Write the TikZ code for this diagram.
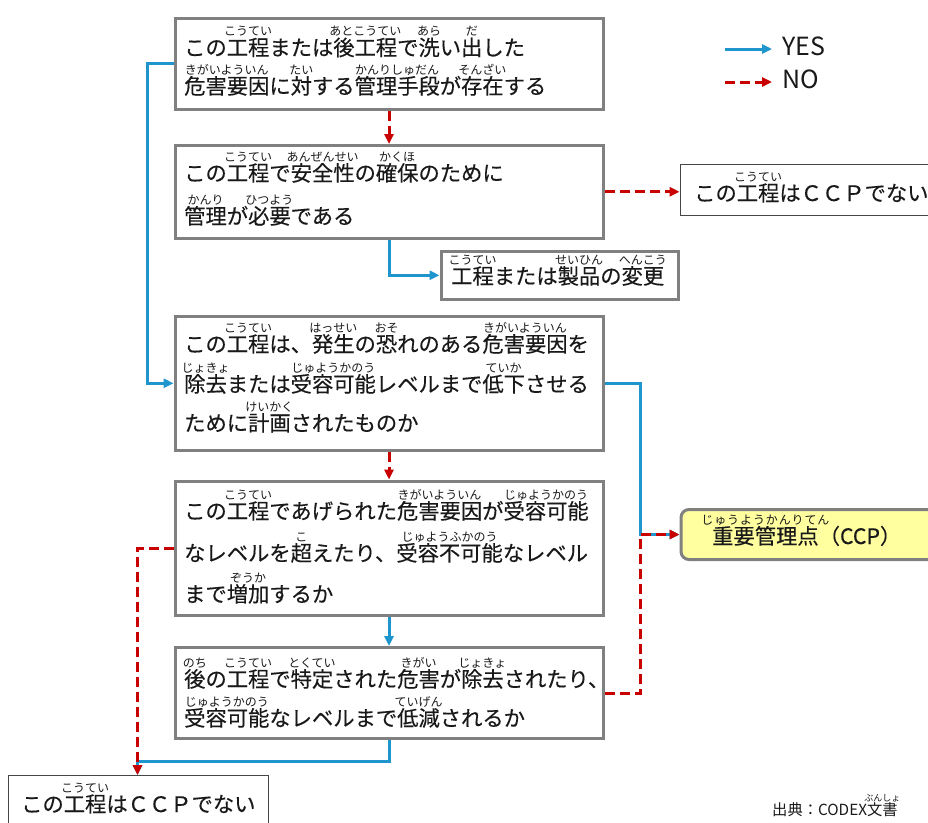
\documentclass[tikz,border=0pt]{standalone}
\usepackage{fontspec}
\newfontfamily\jp[FakeBold=0.3]{Noto Sans CJK JP}
\newfontfamily\jpr{Noto Sans CJK JP}
\usetikzlibrary{arrows.meta}
\definecolor{yesblue}{RGB}{30,150,205}
\definecolor{nored}{RGB}{200,0,0}
\definecolor{boxgray}{RGB}{128,128,128}
\definecolor{thingray}{RGB}{70,70,70}
\definecolor{ccpfill}{RGB}{255,255,160}
\definecolor{txt}{RGB}{25,25,25}
\newcommand\furisize{\jpr\fontsize{12}{12}\selectfont}
\newlength\furiraise \setlength\furiraise{20pt}
\newcommand\furi[2]{\leavevmode\setbox0=\hbox{#1}\rlap{\hbox to\wd0{\hss\raise\furiraise\hbox{\furisize #2}\hss}}\box0}
\tikzset{
  qbox/.style={draw=boxgray, line width=3pt, minimum width=428pt, inner sep=0pt, anchor=north west, fill=white},
  thinbox/.style={draw=thingray, line width=1.2pt, inner sep=0pt, anchor=north west, fill=white},
  ccpbox/.style={draw=boxgray, line width=3pt, rounded corners=8pt, inner sep=0pt, anchor=north west, fill=ccpfill},
  ln/.style={anchor=base west, inner sep=0pt, text=txt, font=\jp\fontsize{21.3}{21.3}\selectfont},
  yesline/.style={draw=yesblue, line width=3pt, -{Triangle[length=10pt,width=9pt]}},
  noline/.style={draw=nored, line width=3pt, dash pattern=on 10pt off 5pt, -{Triangle[length=10pt,width=9pt]}},
  legend/.style={anchor=base west, inner sep=0pt, text=txt, font=\jpr\fontsize{25}{25}\selectfont},
}
\begin{document}
\begin{tikzpicture}[x=1pt,y=-1pt]
\useasboundingbox (0,0) rectangle (928,822);
\clip (0,0) rectangle (928,822);
\fill[white] (0,0) rectangle (928,822);

% boxes
\node[qbox, minimum height=91pt] (b1) at (173.5,16.5) {};
\node[qbox, minimum height=92.5pt] (b2) at (173.5,144) {};
\node[qbox, minimum width=237pt, minimum height=48.5pt] (b3) at (439.5,249.5) {};
\node[qbox, minimum height=134.5pt] (b4) at (173.5,314.5) {};
\node[qbox, minimum height=134.5pt] (b5) at (173.5,479.5) {};
\node[qbox, minimum height=91pt] (b6) at (173.5,646) {};
\node[thinbox, minimum width=270pt, minimum height=51pt] (nr) at (679.5,164) {};
\node[ccpbox, minimum width=290pt, minimum height=50pt] (ccp) at (679.5,508) {};
\node[thinbox, minimum width=260.5pt, minimum height=70pt] (nb) at (7.5,775) {};

% connectors
\draw[yesline] (b1.west) -- ++(-26,0) |- (b4.west);
\draw[noline] (b1.south) -- (b2.north);
\draw[noline] (b2.east) -- (b2.east -| nr.west);
\draw[yesline] (b2.south) |- (b3.west);
\draw[noline] (b4.south) -- (b5.north);
\draw[yesline] (b4.east) -- ++(36,0) |- (ccp.west);
\draw[noline] (b6.east) -- ++(36,0) |- (ccp.west);
\draw[yesline] (b5.south) -- (b6.north);
\draw[yesline] (b6.south) -- ++(0,21) -| ([xshift=130pt]nb.north west);
\draw[noline] (b5.west) -| ([xshift=130pt]nb.north west);

% texts
\node[ln] (t11) at (184,55.5) {この\furi{工程}{こうてい}または\furi{後工程}{あとこうてい}で\furi{洗}{あら}い\furi{出}{だ}した};
\node[ln] (t12) at (184,94) {\furi{危害要因}{きがいよういん}に\furi{対}{たい}する\furi{管理手段}{かんりしゅだん}が\furi{存在}{そんざい}する};
\node[ln] (t21) at (184,181) {この\furi{工程}{こうてい}で\furi{安全性}{あんぜんせい}の\furi{確保}{かくほ}のために};
\node[ln] (t22) at (184,224) {\furi{管理}{かんり}が\furi{必要}{ひつよう}である};
\node[ln] (t31) at (451,284) {\furi{工程}{こうてい}または\furi{製品}{せいひん}の\furi{変更}{へんこう}};
\node[ln] (t41) at (184,352) {この\furi{工程}{こうてい}は、\furi{発生}{はっせい}の\furi{恐}{おそ}れのある\furi{危害要因}{きがいよういん}を};
\node[ln] (t42) at (184,392) {\furi{除去}{じょきょ}または\furi{受容可能}{じゅようかのう}レベルまで\furi{低下}{ていか}させる};
\node[ln] (t43) at (184,431) {ために\furi{計画}{けいかく}されたものか};
\node[ln] (t51) at (184,519) {この\furi{工程}{こうてい}であげられた\furi{危害要因}{きがいよういん}が\furi{受容可能}{じゅようかのう}};
\node[ln] (t52) at (184,561) {なレベルを\furi{超}{こ}えたり、\furi{受容不可能}{じゅようふかのう}なレベル};
\node[ln] (t53) at (184,602) {まで\furi{増加}{ぞうか}するか};
\node[ln] (t61) at (184,687) {\furi{後}{のち}の\furi{工程}{こうてい}で\furi{特定}{とくてい}された\furi{危害}{きがい}が\furi{除去}{じょきょ}されたり、};
\node[ln] (t62) at (184,726) {\furi{受容可能}{じゅようかのう}なレベルまで\furi{低減}{ていげん}されるか};
\node[ln] (tnr) at (694,201) {この\furi{工程}{こうてい}はＣＣＰでない};
\node[ln] (tccp) at (712,544) {\furi{重要管理点}{\hbox to 128pt{じ\hfil ゅ\hfil う\hfil よ\hfil う\hfil か\hfil ん\hfil り\hfil て\hfil ん}}（CCP）};
\node[ln] (tnb) at (21,812) {この\furi{工程}{こうてい}はＣＣＰでない};
\node[anchor=base west, inner sep=0pt, text=txt, font=\jpr\fontsize{15.3}{15.3}\selectfont] (src) at (772,815)
  {\setlength\furiraise{13.5pt}\renewcommand\furisize{\fontsize{9}{9}\selectfont}出典：CODEX\furi{文書}{ぶんしょ}};

% legend
\node[legend] (ly) at (782,55) {YES};
\node[legend] (lno) at (782,88) {NO};
\draw[yesline] ([xshift=-57pt,yshift=6pt]ly.base west) -- ([xshift=-10pt,yshift=6pt]ly.base west);
\draw[noline] ([xshift=-57pt,yshift=6pt]lno.base west) -- ([xshift=-10pt,yshift=6pt]lno.base west);
\end{tikzpicture}
\end{document}
